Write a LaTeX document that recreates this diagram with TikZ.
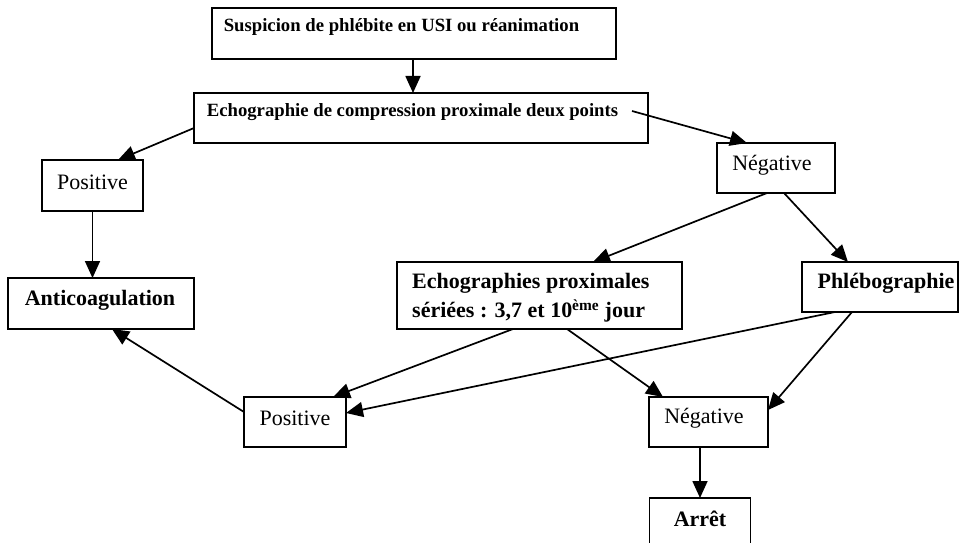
\documentclass[tikz,border=0pt]{standalone}
\usepackage{fontspec}
\setmainfont{Liberation Serif}
\usetikzlibrary{arrows.meta}
\begin{document}
\begin{tikzpicture}[x=1pt,y=-1pt,
  boxnode/.style={draw=black,line width=1.9pt,rectangle,inner sep=0pt,outer sep=0pt},
  conn/.style={draw=black,line width=1.7pt,-{Triangle[length=17pt,width=15pt]}},
  hdr/.style={font=\fontsize{18.7}{22}\selectfont\bfseries,inner sep=0pt},
  reg/.style={font=\fontsize{22}{26}\selectfont,inner sep=0pt},
  bld/.style={font=\fontsize{22}{26}\selectfont\bfseries,inner sep=0pt}]
\useasboundingbox (0,0) rectangle (961,543);
\fill[white] (0,0) rectangle (961,543);
% boxes
\node[boxnode,minimum width=404pt,minimum height=51pt] (s1) at (414,33.5) {};
\node[boxnode,minimum width=454pt,minimum height=50pt] (s2) at (421,118) {};
\node[boxnode,minimum width=101pt,minimum height=51pt] (pos1) at (92.5,185.5) {};
\node[boxnode,minimum width=118pt,minimum height=50pt] (neg1) at (776,168) {};
\node[boxnode,minimum width=186pt,minimum height=51pt] (anti) at (101,303.5) {};
\node[boxnode,minimum width=285pt,minimum height=67pt] (echo) at (539.5,295.5) {};
\node[boxnode,minimum width=156pt,minimum height=50pt] (phleb) at (880,287) {};
\node[boxnode,minimum width=102pt,minimum height=50pt] (pos2) at (295,422) {};
\node[boxnode,minimum width=119pt,minimum height=50pt] (neg2) at (708.5,422) {};
\node[boxnode,minimum width=101pt,minimum height=54pt] (arret) at (700,525) {};
% texts
\node[hdr] (t1) at (401.5,27) {Suspicion de phlébite en USI ou réanimation};
\node[hdr] (t2) at (412.5,112) {Echographie de compression proximale deux points};
\node[reg] (t3) at (92.5,182) {Positive};
\node[reg] (t4) at (772,165) {Négative};
\node[bld] (t5) at (100,300) {Anticoagulation};
\node[bld,anchor=west] (t6a) at (412,283) {Echographies proximales};
\node[bld,anchor=west] (t6b) at (412,311) {sériées : 3,7 et 10\textsuperscript{ème} jour};
\node[bld] (t7) at (886,283) {Phlébographie};
\node[reg] (t8) at (295,418) {Positive};
\node[reg] (t9) at (704,418) {Négative};
\node[bld] (t10) at (700,519) {Arrêt};
% connectors
\draw[conn] ([xshift=-1pt]s1.south) -- ([xshift=-8pt]s2.north);
\draw[conn] ([yshift=-10pt]s2.west) -- ([xshift=25.5pt]pos1.north);
\draw[conn] ([xshift=211pt,yshift=7pt]s2.center) -- ([xshift=-29pt]neg1.north);
\draw[conn] (pos1.south) -- ([xshift=-8.5pt]anti.north);
\draw[conn] ([xshift=-9pt]neg1.south) -- ([xshift=53.5pt]echo.north);
\draw[conn] ([xshift=8pt]neg1.south) -- ([xshift=-32pt]phleb.north);
\draw[conn] ([xshift=-26.5pt]echo.south) -- ([xshift=38pt]pos2.north);
\draw[conn] ([xshift=27.5pt]echo.south) -- ([xshift=-45.5pt]neg2.north);
\draw[conn] ([xshift=-45pt]phleb.south) -- ([yshift=9pt]pos2.east);
\draw[conn] ([xshift=-28pt]phleb.south) -- ([yshift=12pt]neg2.east);
\draw[conn] ([xshift=-8.5pt]neg2.south) -- (arret.north);
\draw[conn] ([yshift=10pt]pos2.west) -- ([xshift=11pt]anti.south);
\end{tikzpicture}
\end{document}
